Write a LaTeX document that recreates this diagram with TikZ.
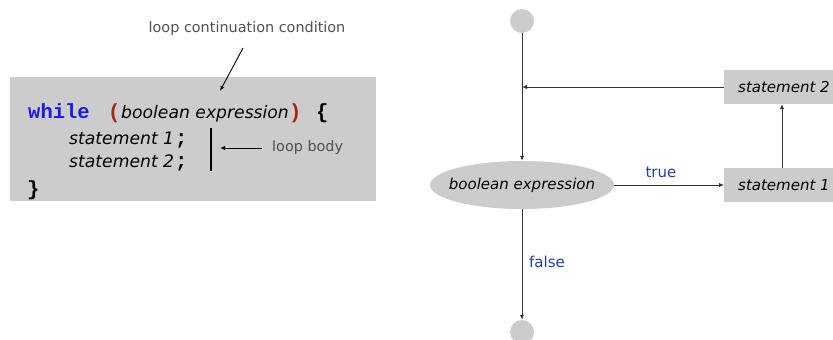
\documentclass[tikz,border=0pt]{standalone}
\usepackage{fontspec}
\setmainfont{DejaVu Sans}
\newfontfamily\codefont{Liberation Mono}
\usetikzlibrary{arrows.meta,shapes.geometric}
\definecolor{boxgray}{HTML}{CCCCCC}
\definecolor{kwblue}{HTML}{1A1AF0}
\definecolor{parred}{HTML}{A02A14}
\definecolor{labblue}{HTML}{1F3FA8}
\definecolor{notegray}{HTML}{505050}
\definecolor{linegray}{HTML}{333333}
\tikzset{
  tok/.style={inner sep=0pt, anchor=base west},
  codebig/.style={font=\fontsize{17.2}{20}\selectfont\itshape},
  monobig/.style={font=\fontsize{20.5}{22}\selectfont\codefont\bfseries},
  note/.style={font=\fontsize{14.4}{16}\selectfont, text=notegray, inner sep=0pt},
  flowlab/.style={font=\fontsize{15}{17}\selectfont, text=labblue, inner sep=0pt},
  flowbox/.style={fill=boxgray, font=\fontsize{15}{17}\selectfont\itshape, anchor=west,
    minimum height=34pt, inner xsep=14pt, inner ysep=0pt, align=left},
  terminal/.style={circle, fill=boxgray, minimum size=24pt, inner sep=0pt},
  decision/.style={ellipse, fill=boxgray, minimum width=184pt, minimum height=48pt,
    inner sep=0pt},
  flowtext/.style={inner sep=0pt, font=\fontsize{15}{17}\selectfont\itshape},
  flow/.style={draw=linegray, line width=1pt, -{Latex[length=5pt,width=4.5pt]}},
}
\begin{document}
\begin{tikzpicture}[x=1pt,y=-1pt]
\useasboundingbox (0,0) rectangle (833,340);
\clip (0,0) rectangle (833,340);

% ---- while loop source ----
\fill[boxgray] (10,77) rectangle (376,201);
\node[tok, monobig, text=kwblue] (kw) at (28,118) {while};
\node[tok, monobig, text=parred] (lp) at (108,118) {(};
\node[tok, codebig] (expr) at (121,118) {boolean expression};
\node[tok, monobig, text=parred] (rp) at (289,118) {)};
\node[tok, monobig] (lb) at (316,118) {\{};
\node[tok, codebig] (st1) at (69,144) {statement 1};
\node[tok, monobig] (sc1) at (175,144) {;};
\node[tok, codebig] (st2) at (69,167) {statement 2};
\node[tok, monobig] (sc2) at (175,167) {;};
\node[tok, monobig] (rb) at (27,195) {\}};

% annotations
\node[note] (cond note) at (247,29) {loop continuation condition};
\coordinate (cn tail) at (243,48);
\coordinate (cn head) at (220,91);
\draw[draw=black, line width=0.9pt, -{Latex[length=5pt,width=4pt]}] (cn tail) -- (cn head);

\coordinate (bar top) at (211,128);
\coordinate (bar bot) at (211,171);
\draw[black, line width=1.3pt] (bar top) -- (bar bot);
\node[note, anchor=west] (body note) at (272,148) {loop body};
\coordinate (bn head) at (220,148);
\draw[draw=black, line width=0.9pt, -{Latex[length=5pt,width=4pt]}] (body note.west) ++(-10,0) -- (bn head);

% ---- flow chart ----
\node[terminal] (start) at (522,21) {};
\node[decision] (cond) at (522,185) {};
\node[flowtext] (cond text) at (cond.center) {boolean expression};
\node[flowbox] (s1) at (724,185) {statement 1};
\node[flowbox] (s2) at (724,87) {statement 2};
\node[terminal] (stop) at (522,332) {};

\coordinate (join) at (522,87);
\coordinate (upx) at (782,0);

\draw[draw=linegray, line width=1pt] (start.south) -- (join);
\draw[flow] (join) -- (cond.north);
\draw[flow] (s2.west) -- (join);
\draw[flow] (cond.east) -- (s1.west);
\node[flowlab] (true lab) at (661,172) {true};
\draw[flow] (s1.north -| upx) -- (s2.south -| upx);
\draw[flow] (cond.south) -- (stop.north);
\node[flowlab, anchor=west] (false lab) at (529,262) {false};
\end{tikzpicture}
\end{document}
